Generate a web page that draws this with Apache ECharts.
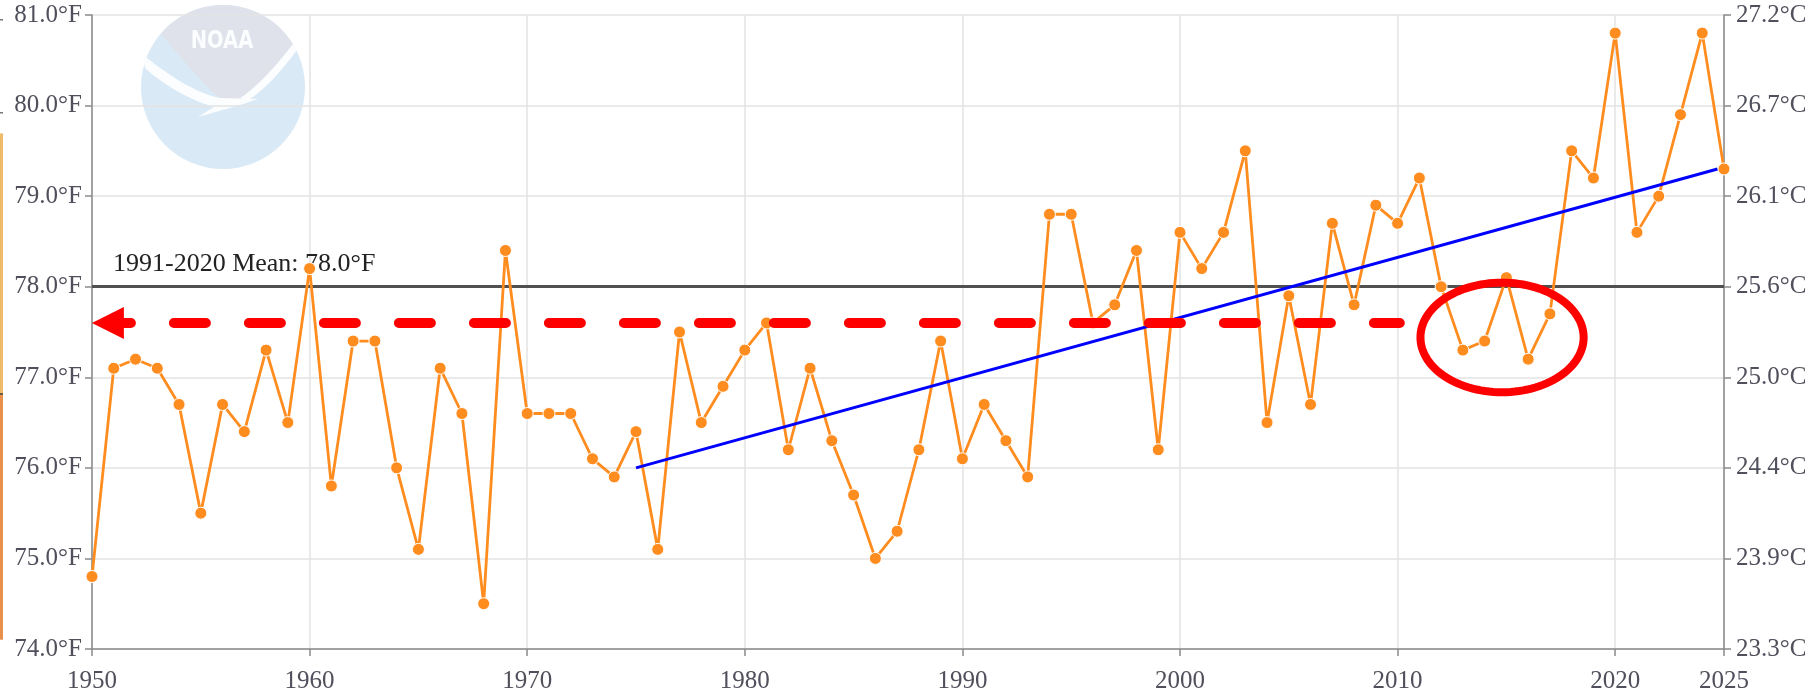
<!DOCTYPE html>
<html>
<head>
<meta charset="utf-8">
<title>Annual temperature</title>
<script src="https://cdn.jsdelivr.net/npm/echarts@6/dist/echarts.min.js"></script>
<style>
  html, body { margin: 0; padding: 0; background: #fff; }
  #chart { width: 1815px; height: 696px; }
</style>
</head>
<body>
<div id="chart"></div>
<script>
// yearly values
const years = [
  1950, 1951, 1952, 1953, 1954, 1955, 1956, 1957, 1958, 1959,
  1960, 1961, 1962, 1963, 1964, 1965, 1966, 1967, 1968, 1969,
  1970, 1971, 1972, 1973, 1974, 1975, 1976, 1977, 1978, 1979,
  1980, 1981, 1982, 1983, 1984, 1985, 1986, 1987, 1988, 1989,
  1990, 1991, 1992, 1993, 1994, 1995, 1996, 1997, 1998, 1999,
  2000, 2001, 2002, 2003, 2004, 2005, 2006, 2007, 2008, 2009,
  2010, 2011, 2012, 2013, 2014, 2015, 2016, 2017, 2018, 2019,
  2020, 2021, 2022, 2023, 2024, 2025
];
const tempF = [
  74.8, 77.1, 77.2, 77.1, 76.7, 75.5, 76.7, 76.4, 77.3, 76.5,
  78.2, 75.8, 77.4, 77.4, 76.0, 75.1, 77.1, 76.6, 74.5, 78.4,
  76.6, 76.6, 76.6, 76.1, 75.9, 76.4, 75.1, 77.5, 76.5, 76.9,
  77.3, 77.6, 76.2, 77.1, 76.3, 75.7, 75.0, 75.3, 76.2, 77.4,
  76.1, 76.7, 76.3, 75.9, 78.8, 78.8, 77.6, 77.8, 78.4, 76.2,
  78.6, 78.2, 78.6, 79.5, 76.5, 77.9, 76.7, 78.7, 77.8, 78.9,
  78.7, 79.2, 78.0, 77.3, 77.4, 78.1, 77.2, 77.7, 79.5, 79.2,
  80.8, 78.6, 79.0, 79.9, 80.8, 79.3
];

// axis ticks
const fTicks = [74, 75, 76, 77, 78, 79, 80, 81];
const cLabels = ['23.3', '23.9', '24.4', '25.0', '25.6', '26.1', '26.7', '27.2'];

// reference line and trend
const meanF = 78.0;
const meanLabel = '1991-2020 Mean: 78.0°F';
const trendLine = [[1975, 76.0], [2024.7, 79.3]];

// red annotations (data space)
const arrowLevel = 77.6;
const arrowFrom = 1950.73;
const arrowTo = 2010.1;
const ringCenter = [2014.8, 77.44];
const ringRadius = [3.75, 0.605];

const serif = '"Liberation Serif", "Times New Roman", serif';
const axisGray = '#8a8a8a';
const gridGray = '#e3e3e3';
const labelGray = '#50505c';

// small helpers for the faded logo outline
function bez(p0, p1, p2, p3, n) {
  const pts = [];
  for (let i = 1; i <= n; i++) {
    const t = i / n, u = 1 - t;
    pts.push([
      u * u * u * p0[0] + 3 * u * u * t * p1[0] + 3 * u * t * t * p2[0] + t * t * t * p3[0],
      u * u * u * p0[1] + 3 * u * u * t * p1[1] + 3 * u * t * t * p2[1] + t * t * t * p3[1]
    ]);
  }
  return pts;
}
function arc(cx, cy, r, a0, a1, n) {
  const pts = [];
  for (let i = 0; i <= n; i++) {
    const a = (a0 + (a1 - a0) * i / n) * Math.PI / 180;
    pts.push([cx + r * Math.cos(a), cy + r * Math.sin(a)]);
  }
  return pts;
}

const logoGray = [].concat(
  arc(223, 87, 82, -139.5, -31.6, 30),
  bez([293, 44], [277, 64], [258, 88], [242, 98], 12),
  bez([242, 98], [232, 103], [224, 101], [216, 95], 6),
  bez([216, 95], [196, 76], [176, 52], [161, 34], 12)
);
const logoWingL = [].concat(
  [[143, 55]],
  bez([143, 55], [172, 78], [198, 94], [220, 98], 12),
  [[258, 99], [240, 105], [198, 117], [214, 107]],
  bez([214, 107], [190, 100], [165, 86], [145, 68], 12)
);
const logoWingR = [].concat(
  [[297, 50]],
  bez([297, 50], [282, 70], [264, 91], [248, 100], 10),
  [[240, 98]],
  bez([240, 98], [256, 88], [276, 66], [293, 44], 10)
);

const chart = echarts.init(document.getElementById('chart'));

const option = {
  animation: false,
  backgroundColor: '#fff',
  grid: {left: 92, right: 91, top: 15, bottom: 47, containLabel: false},
  graphic: [
    // strip cut off at the left edge
    {type: 'rect', z: -10, shape: {x: 0, y: 133, width: 3, height: 262, r: [2, 2, 0, 0]}, style: {fill: '#efba6a'}},
    {type: 'rect', z: -10, shape: {x: 0, y: 395, width: 3, height: 245, r: [0, 0, 2, 2]}, style: {fill: '#e8904c'}},
    {type: 'rect', z: -10, shape: {x: 0, y: 393, width: 3, height: 2}, style: {fill: '#6a5a4a'}},
    {type: 'rect', z: -10, shape: {x: 0, y: 19, width: 3, height: 1.5}, style: {fill: '#777'}},
    {type: 'rect', z: -10, shape: {x: 0, y: 112, width: 3, height: 1.5}, style: {fill: '#777'}},
    // faded logo
    {type: 'circle', z: -10, shape: {cx: 223, cy: 87, r: 82}, style: {fill: '#d9eaf6'}},
    {type: 'polygon', z: -9, shape: {points: logoGray}, style: {fill: '#dfe2ea'}},
    {type: 'polygon', z: -8, shape: {points: logoWingL}, style: {fill: '#fcfdfe'}},
    {type: 'polygon', z: -8, shape: {points: logoWingR}, style: {fill: '#fcfdfe'}},
    {
      type: 'text', z: -8, x: 222, y: 41, scaleX: 0.78,
      style: {
        x: 0, y: 0, text: 'NOAA', fill: '#fcfdfe',
        font: 'bold 25px "DejaVu Sans", sans-serif', align: 'center', verticalAlign: 'middle'
      }
    }
  ],
  xAxis: {
    type: 'value',
    min: 1950,
    max: 2025,
    interval: 10,
    axisLine: {show: true, lineStyle: {color: axisGray, width: 1.5}},
    axisTick: {show: true, length: 7, lineStyle: {color: axisGray, width: 1.5}},
    axisLabel: {fontFamily: serif, fontSize: 25, color: labelGray, margin: 20, formatter: v => String(v)},
    splitLine: {show: true, lineStyle: {color: gridGray, width: 1.5}}
  },
  yAxis: [
    {
      type: 'value',
      position: 'left',
      min: fTicks[0],
      max: fTicks[fTicks.length - 1],
      interval: 1,
      axisLine: {show: true, lineStyle: {color: axisGray, width: 1.5}},
      axisTick: {show: true, length: 7, lineStyle: {color: axisGray, width: 1.5}},
      axisLabel: {
        fontFamily: serif, fontSize: 25, color: labelGray, margin: 10,
        formatter: v => v.toFixed(1) + '°F'
      },
      splitLine: {show: true, lineStyle: {color: gridGray, width: 1.5}}
    },
    {
      type: 'value',
      position: 'right',
      min: fTicks[0],
      max: fTicks[fTicks.length - 1],
      interval: 1,
      axisLine: {show: true, lineStyle: {color: axisGray, width: 1.5}},
      axisTick: {show: true, length: 7, lineStyle: {color: axisGray, width: 1.5}},
      axisLabel: {
        fontFamily: serif, fontSize: 25, color: labelGray, margin: 12,
        formatter: v => cLabels[fTicks.indexOf(v)] + '°C'
      },
      splitLine: {show: false}
    }
  ],
  series: [
    {
      name: 'Temperature',
      type: 'line',
      z: 3,
      data: years.map((y, i) => [y, tempF[i]]),
      symbol: 'circle',
      symbolSize: 12,
      color: '#ff8c1f',
      itemStyle: {color: '#ff8c1f', borderColor: '#fff', borderWidth: 1},
      lineStyle: {color: '#ff8c1f', width: 2.8},
      markLine: {
        z: 1,
        silent: true,
        symbol: 'none',
        data: [{yAxis: meanF}],
        lineStyle: {color: '#505050', width: 3, type: 'solid'},
        label: {show: false}
      }
    },
    {
      name: 'Trend',
      type: 'line',
      z: 4,
      data: trendLine,
      symbol: 'none',
      silent: true,
      lineStyle: {color: '#0000ff', width: 3}
    },
    {
      name: 'Arrow',
      type: 'line',
      z: 6,
      data: [],
      markLine: {
        z: 6,
        silent: true,
        symbol: ['triangle', 'none'],
        symbolSize: 32,
        data: [[{coord: [arrowFrom, arrowLevel]}, {coord: [arrowTo, arrowLevel]}]],
        lineStyle: {color: '#ff0000', width: 10, type: [32, 43], cap: 'round', dashOffset: 9},
        itemStyle: {color: '#ff0000'},
        label: {show: false}
      }
    },
    {
      name: 'Ring',
      type: 'custom',
      z: 7,
      silent: true,
      encode: {x: 0, y: 1},
      data: [[ringCenter[0], ringCenter[1], ringRadius[0], ringRadius[1]]],
      renderItem(params, api) {
        const c = api.coord([api.value(0), api.value(1)]);
        const s = api.size([api.value(2), api.value(3)], [api.value(0), api.value(1)]);
        const pts = [];
        for (let i = 0; i < 120; i++) {
          const a = i / 120 * Math.PI * 2;
          pts.push([c[0] + s[0] * Math.cos(a), c[1] + s[1] * Math.sin(a)]);
        }
        return {
          type: 'polygon',
          shape: {points: pts},
          style: {fill: 'none', stroke: '#ff0000', lineWidth: 8}
        };
      }
    }
  ]
};

chart.setOption(option);

// mean label sits just above the mean line, near the left axis
const meanAt = chart.convertToPixel({gridIndex: 0}, [1950, meanF]);
chart.setOption({
  graphic: option.graphic.concat([{
    type: 'text', z: 1, x: meanAt[0] + 21, y: meanAt[1] - 10,
    style: {
      text: meanLabel, fill: '#222', font: '26px ' + serif,
      align: 'left', verticalAlign: 'bottom'
    }
  }])
});
</script>
</body>
</html>
